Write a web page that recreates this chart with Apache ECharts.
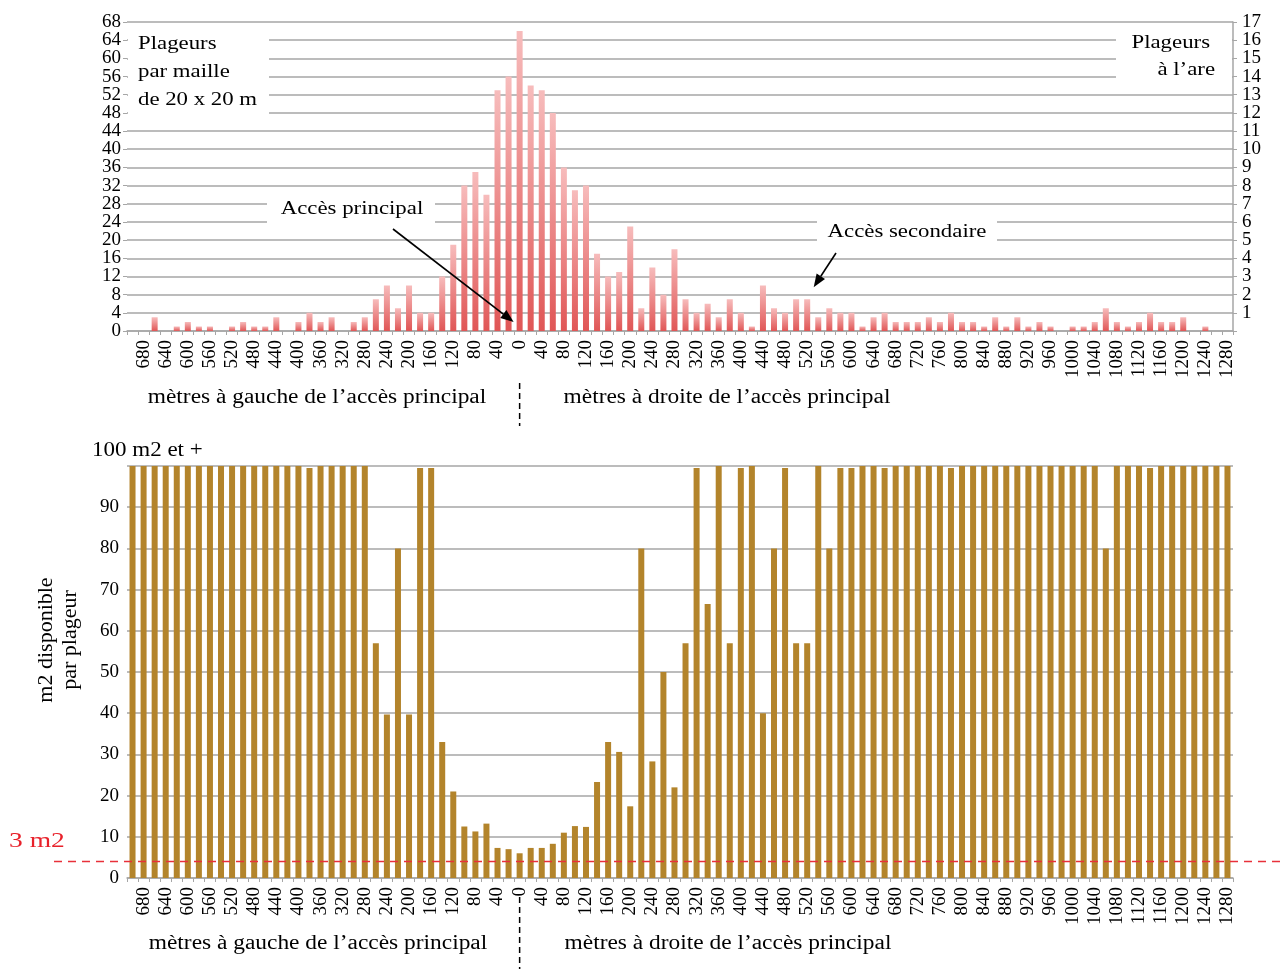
<!DOCTYPE html>
<html>
<head>
<meta charset="utf-8">
<script src="https://cdn.jsdelivr.net/npm/echarts@6.0.0/dist/echarts.min.js"></script>
<style>
html,body{margin:0;padding:0;background:#fff;}
#chart{width:1282px;height:969px;}
</style>
</head>
<body>
<div id="chart"></div>
<script>
// Distance categories (m): negative = left of the main access, positive = right
const distances = [-700,-680,-660,-640,-620,-600,-580,-560,-540,-520,-500,-480,-460,-440,-420,-400,-380,-360,-340,-320,-300,-280,-260,-240,-220,-200,-180,-160,-140,-120,-100,-80,-60,-40,-20,
  0,
  20,40,60,80,100,120,140,160,180,200,220,240,260,280,300,320,340,360,380,400,420,440,460,480,500,520,540,560,580,600,620,640,660,680,700,720,740,760,780,800,820,840,860,880,900,920,940,960,980,1000,1020,1040,1060,1080,1100,1120,1140,1160,1180,1200,1220,1240,1260,1280];

// Plageurs par maille de 20 x 20 m
const plageursParMaille = [
  0,0,3,0,1,2,1,1,0,1,
  2,1,1,3,0,2,4,2,3,0,
  2,3,7,10,5,10,4,4,12,19,
  32,35,30,53,56,66,54,53,48,36,
  31,32,17,12,13,23,5,14,8,18,
  7,4,6,3,7,4,1,10,5,4,
  7,7,3,5,4,4,1,3,4,2,
  2,2,3,2,4,2,2,1,3,1,
  3,1,2,1,0,1,1,2,5,2,
  1,2,4,2,2,3,0,1,0,0
];

// m2 disponible par plageur (100 = 100 m2 et +)
const m2ParPlageur = [
  100,100,100,100,100,100,100,100,100,100,
  100,100,100,100,100,100,99.5,100,100,100,
  100,100,57,39.7,80,39.7,99.5,99.5,33,21,
  12.5,11.3,13.2,7.3,7,6,7.3,7.3,8.3,11,
  12.6,12.4,23.3,33,30.6,17.4,80,28.3,50,22,
  57,99.5,66.5,100,57,99.5,100,40,80,99.5,
  57,57,100,80,99.5,99.5,100,100,99.5,100,
  100,100,100,100,99.5,100,100,100,100,100,
  100,100,100,100,100,100,100,100,80,100,
  100,100,99.5,100,100,100,100,100,100,100
];

// Axis settings
const topLeftMax = 68, topLeftStep = 4;
const topRightMax = 17, topRightStep = 1;
const bottomMax = 100, bottomStep = 10;
const seuilM2 = 4;           // red dashed threshold line ("3 m2" label)
const accesIndex = 35;       // index of the "0" category (main access)
const secondaryIndex = 61;   // bar near the secondary access arrow

const FONT = 'Liberation Serif';
const GRID = '#a6a6a6';
const NONE = 'rgba(0,0,0,0)';

const chart = echarts.init(document.getElementById('chart'), null, {renderer:'canvas'});

const lbl = {fontFamily:FONT, fontSize:19, color:'#000'};

function xAxisCfg(gridIndex){
  return {
    type:'category', gridIndex, data: distances, boundaryGap:true,
    axisLine:{show:true, lineStyle:{color:GRID, width:1.5}},
    axisTick:{show:true, interval:0, length:4, lineStyle:{color:GRID, width:1}},
    axisLabel:Object.assign({
      interval:(i)=> i % 2 === 1, rotate:90, margin:9, hideOverlap:false,
      formatter:(v)=> String(Math.abs(Number(v)))
    }, lbl),
    splitLine:{show:false},
    splitArea:{show:false}
  };
}

const option = {
  animation:false,
  backgroundColor:'#fff',
  grid:[
    {left:127, top:22, width:1106, height:309, show:false},
    {left:127, top:466, width:1106, height:412, show:false}
  ],
  xAxis:[xAxisCfg(0), xAxisCfg(1)],
  yAxis:[
    // 0: top-left, inner labels (4 ... 64)
    {type:'value', gridIndex:0, min:0, max:topLeftMax, interval:topLeftStep,
     axisLine:{show:false, lineStyle:{color:NONE, width:0}},
     axisTick:{show:true, length:4, lineStyle:{color:GRID}},
     splitLine:{show:true, lineStyle:{color:GRID, width:1.5}},
     axisLabel:Object.assign({margin:6, showMinLabel:false, showMaxLabel:false}, lbl)},
    // 1: top-right, inner labels (1 ... 16)
    {type:'value', gridIndex:0, position:'right', min:0, max:topRightMax, interval:topRightStep,
     axisLine:{show:true, lineStyle:{color:GRID, width:1.5}},
     axisTick:{show:true, length:4, lineStyle:{color:GRID}},
     splitLine:{show:false},
     axisLabel:Object.assign({margin:9, showMinLabel:false, showMaxLabel:false}, lbl)},
    // 2: bottom chart
    {type:'value', gridIndex:1, min:0, max:bottomMax, interval:bottomStep,
     axisLine:{show:false, lineStyle:{color:NONE, width:0}}, axisTick:{show:false},
     splitLine:{show:true, lineStyle:{color:GRID, width:1.5}},
     axisLabel:Object.assign({margin:8, showMinLabel:true, showMaxLabel:true,
       formatter:(v)=> v === bottomMax ? '' : String(v)}, lbl)},
    // 3: top-left extremes (0 and 68)
    {type:'value', gridIndex:0, position:'left', offset:0, min:0, max:topLeftMax, interval:topLeftMax,
     axisLine:{show:false, lineStyle:{color:NONE, width:0}},
     axisTick:{show:true, length:4, lineStyle:{color:GRID}},
     splitLine:{show:false},
     axisLabel:Object.assign({margin:6, showMinLabel:true, showMaxLabel:true}, lbl)},
    // 4: top-right extreme (17)
    {type:'value', gridIndex:0, position:'right', offset:0, min:0, max:topRightMax, interval:topRightMax,
     axisLine:{show:false, lineStyle:{color:NONE, width:0}},
     axisTick:{show:true, length:4, lineStyle:{color:GRID}},
     splitLine:{show:false},
     axisLabel:Object.assign({margin:9, showMinLabel:true, showMaxLabel:true,
       formatter:(v)=> v === 0 ? '' : String(v)}, lbl)}
  ],
  series:[
    {type:'bar', name:'Plageurs par maille', xAxisIndex:0, yAxisIndex:0, data:plageursParMaille,
     barWidth:6, z:3,
     itemStyle:{color:new echarts.graphic.LinearGradient(0,0,0,1,[
       {offset:0, color:'#f7bcbc'}, {offset:1, color:'#e05656'}])}},
    {type:'bar', name:'m2 par plageur', xAxisIndex:1, yAxisIndex:2, data:m2ParPlageur,
     barWidth:6, z:3,
     itemStyle:{color:'#b3842b'}}
  ]
};
chart.setOption(option);

// ---------- annotations ----------
function txt(text, x, y, o){
  o = o || {};
  return {
    type:'text', x, y, z:110, scaleX:o.sx || 1, rotation:o.rot || 0,
    style:{text, fontFamily:FONT, fontSize:o.fs || 19, fill:o.color || '#000',
      align:o.align || 'left', verticalAlign:'middle', lineHeight:o.lh || undefined}
  };
}
function mask(x, y, w, h){
  return {type:'rect', z:105, shape:{x, y, width:w, height:h}, style:{fill:'#fff'}};
}
function arrow(x1, y1, x2, y2){
  const dx = x2-x1, dy = y2-y1, L = Math.hypot(dx,dy), ux = dx/L, uy = dy/L;
  const hl = 13, hw = 5;
  const bx = x2-ux*hl, by = y2-uy*hl;
  return [
    {type:'line', z:110, shape:{x1, y1, x2:bx, y2:by}, style:{stroke:'#000', lineWidth:1.6}},
    {type:'polygon', z:110, shape:{points:[[x2,y2],[bx-uy*hw, by+ux*hw],[bx+uy*hw, by-ux*hw]]}, style:{fill:'#000'}}
  ];
}
function dashV(x, y1, y2){
  return {type:'line', z:110, shape:{x1:x, y1, x2:x, y2}, style:{stroke:'#000', lineWidth:1.5, lineDash:[6,4]}};
}

const pAcces = chart.convertToPixel({xAxisIndex:0, yAxisIndex:0}, [accesIndex, 0]);
const pSec = chart.convertToPixel({xAxisIndex:0, yAxisIndex:0}, [secondaryIndex, plageursParMaille[secondaryIndex]]);
const pAccesB = chart.convertToPixel({xAxisIndex:1, yAxisIndex:2}, [accesIndex, 0]);
const ySeuil = chart.convertToPixel({yAxisIndex:2}, seuilM2);
const yTop100 = chart.convertToPixel({yAxisIndex:2}, bottomMax);

const S = 1.2;
const graphics = [
  // top-left title
  mask(128, 29, 141, 89),
  txt('Plageurs', 138, 44, {sx:S}),
  txt('par maille', 138, 72, {sx:S}),
  txt('de 20 x 20 m', 138, 100, {sx:S}),
  // top-right title
  mask(1116, 30, 116, 55),
  txt('Plageurs', 1210, 43, {sx:S, align:'right'}),
  txt('à l’are', 1215, 70, {sx:S, align:'right'}),
  // access labels
  mask(267, 192, 168, 38),
  txt('Accès principal', 352, 209, {sx:S, align:'center'}),
  mask(817, 213, 180, 35),
  txt('Accès secondaire', 907, 232, {sx:S, align:'center'}),
  ...arrow(393, 229, pAcces[0]-6, pAcces[1]-9),
  ...arrow(836, 253, pSec[0]+6.5, pSec[1]-12),
  // top x-axis captions
  txt('mètres à gauche de l’accès principal', 317, 398, {sx:1.17, fs:20, align:'center'}),
  txt('mètres à droite de l’accès principal', 727, 398, {sx:1.17, fs:20, align:'center'}),
  dashV(pAcces[0], 383, 426),
  // bottom chart
  txt('100 m2 et +', 92, yTop100-15, {sx:1.15, fs:20}),
  txt('m2 disponible\npar plageur', 58, 640, {fs:22, lh:24, align:'center', rot:Math.PI/2}),
  {type:'line', z:110, shape:{x1:54, y1:ySeuil, x2:1282, y2:ySeuil}, style:{stroke:'#e8303a', lineWidth:1.5, lineDash:[8,6]}},
  txt('3 m2', 9, ySeuil-20, {sx:1.25, fs:22, color:'#e8212a'}),
  txt('mètres à gauche de l’accès principal', 318, 944, {sx:1.17, fs:20, align:'center'}),
  txt('mètres à droite de l’accès principal', 728, 944, {sx:1.17, fs:20, align:'center'}),
  dashV(pAccesB[0], 897, 969)
];
chart.setOption({graphic:graphics});
</script>
</body>
</html>
